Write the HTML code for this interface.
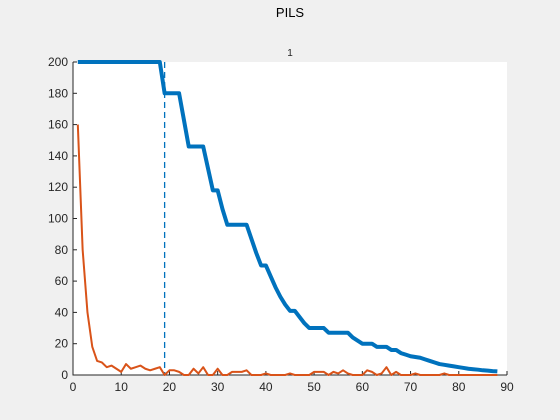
<!DOCTYPE html>
<html><head><meta charset="utf-8"><style>
body{margin:0;background:#f0f0f0;}
svg{display:block;font-family:"Liberation Sans",sans-serif;}
</style></head><body>
<svg width="560" height="420">
<text x="290" y="17" text-anchor="middle" font-size="13" fill="#000">PILS</text>
<text x="290" y="56" text-anchor="middle" font-size="10" fill="#222">1</text>
<rect x="73" y="62" width="434" height="313" fill="#fff"/>
<g id="ticks"></g>
<g id="marks"></g>
</svg>
<script>
const xTicks=[0,10,20,30,40,50,60,70,80,90];
const yTicks=[0,20,40,60,80,100,120,140,160,180,200];
const blue=[200,200,200,200,200,200,200,200,200,200,200,200,200,200,200,200,200,200,180,180,180,180,163,146,146,146,146,132,118,118,106,96,96,96,96,96,87,78,70,70,63,56,50,45,41,41,37,33,30,30,30,30,27,27,27,27,27,24,22,20,20,20,18,18,18,16,16,14,13,12,11.5,11,10,9,8,7,6.5,6,5.5,5,4.5,4,3.7,3.4,3,2.8,2.5,2.3];
const orange=[160,80,40,18,9,8,5,6,4,2,7,4,5,6,4,3,4,5,0,3,3,2,0,0,4,1,5,0,0,4,0,0,2,2,2,3,0,0,0,1,0,0,0,0,1,0,0,0,0,2,2,2,0,2,1,3,1,0,0,0,3,2,0,1,5,0,2,0,0,0,1,0,0,0,0,0,1,0,0,0,0,0,0,0,0,0,0,0];
const cutoff=19;
const X=v=>73+v*(434/90), Y=v=>375-v*(313/200);
const NS='http://www.w3.org/2000/svg';
function mk(t,a,p){const e=document.createElementNS(NS,t);for(const k in a)e.setAttribute(k,a[k]);p.appendChild(e);return e;}
const tg=document.getElementById('ticks'), mg=document.getElementById('marks');
let ax=mk('path',{d:`M73,62V375H507`,stroke:'#262626',fill:'none','stroke-width':1},tg);


xTicks.forEach(v=>{
 let l=mk('line',{x1:X(v),x2:X(v),y1:375,y2:371,stroke:'#262626'},tg);
 
 
 let t=mk('text',{x:X(v),y:391,'text-anchor':'middle','font-size':12,fill:'#262626'},tg);t.textContent=v;
 
 
});
yTicks.forEach(v=>{
 let l=mk('line',{x1:73,x2:77,y1:Y(v),y2:Y(v),stroke:'#262626'},tg);
 
 
 let t=mk('text',{x:68,y:Y(v)+4,'text-anchor':'end','font-size':12,fill:'#262626'},tg);t.textContent=v;
 
 
});
let d=mk('line',{x1:X(cutoff),x2:X(cutoff),y1:62,y2:375,stroke:'#0072bd','stroke-width':1.3,'stroke-dasharray':'6,4'},mg);


let pb=mk('polyline',{points:blue.map((v,i)=>X(i+1)+','+Y(v)).join(' '),fill:'none',stroke:'#0072bd','stroke-width':4,'stroke-linejoin':'round'},mg);


let po=mk('polyline',{points:orange.map((v,i)=>X(i+1)+','+Y(v)).join(' '),fill:'none',stroke:'#d95319','stroke-width':2,'stroke-linejoin':'round'},mg);


</script>
</body></html>
